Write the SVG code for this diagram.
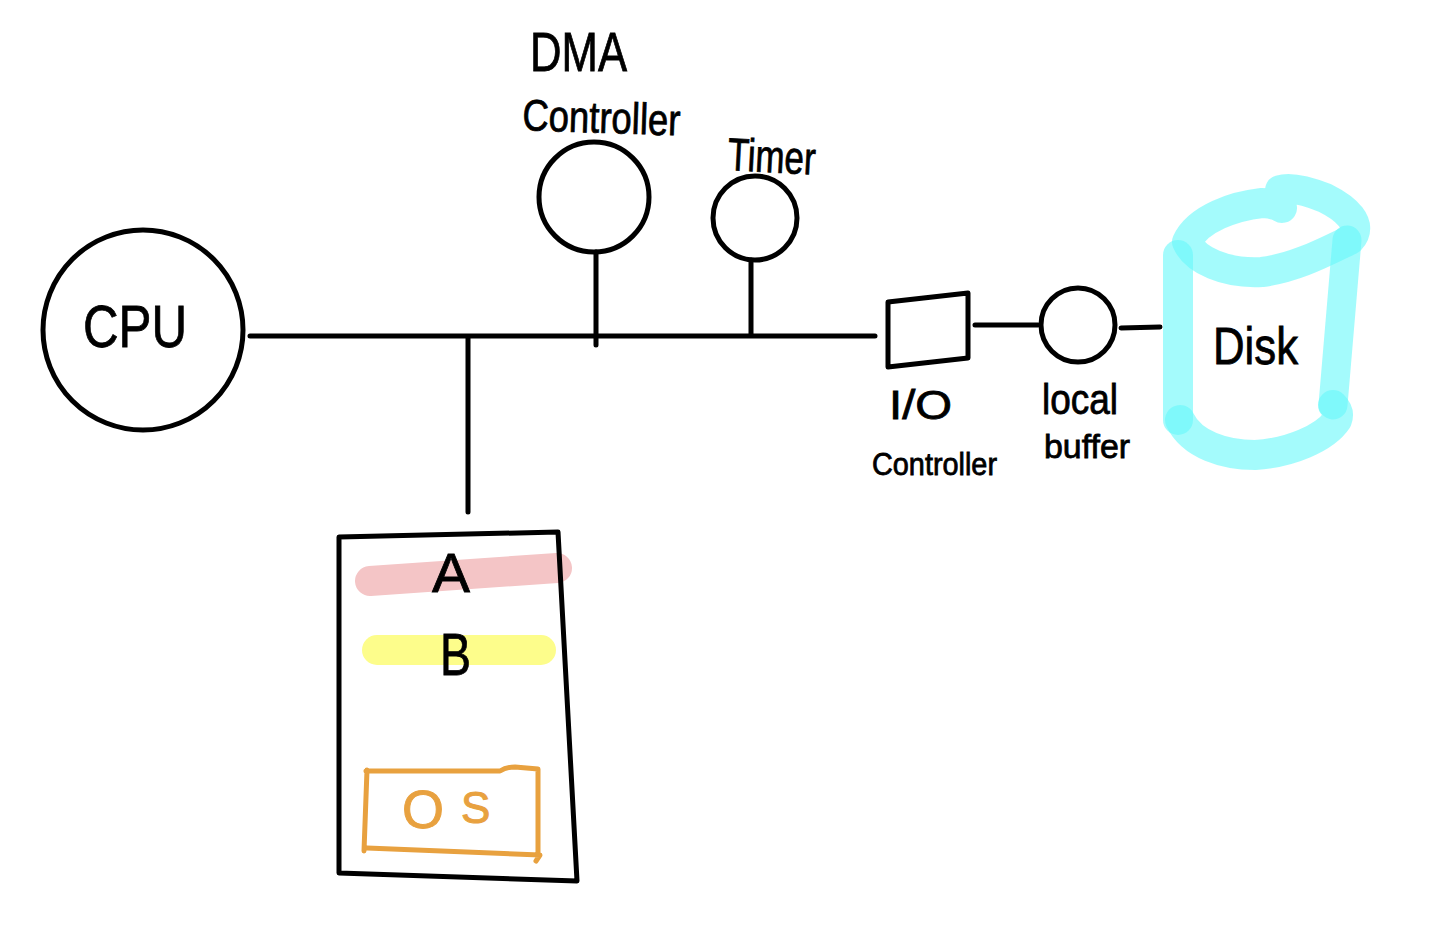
<svg xmlns="http://www.w3.org/2000/svg" width="1440" height="925" viewBox="0 0 1440 925">
<style>
.s{fill:none;stroke:#000;stroke-width:5;stroke-linecap:round;stroke-linejoin:round}
.t{font-family:"Liberation Sans",Arial,sans-serif;fill:#000;stroke:#000;stroke-width:.8}
.d{fill:none;stroke:rgb(103,248,250);stroke-opacity:.6;stroke-linecap:round;stroke-linejoin:round}
</style>
<rect width="1440" height="925" fill="#fff"/>
<g id="connectors">
<path class="s" d="M250 336H875M468 336V512M596 252V345M751 260V336M975 325H1038M1121 328L1160 327"/>
</g>
<g id="cpu">
<circle class="s" cx="143" cy="330" r="100"/>
<text class="t" x="83" y="347" font-size="60" textLength="104" lengthAdjust="spacingAndGlyphs">CPU</text>
</g>
<g id="dma-controller">
<circle class="s" cx="594" cy="197" r="55"/>
<text class="t" x="530" y="71" font-size="56" textLength="97" lengthAdjust="spacingAndGlyphs">DMA</text>
<text class="t" x="522" y="130" font-size="44" textLength="158" lengthAdjust="spacingAndGlyphs" transform="rotate(2 522 130)">Controller</text>
</g>
<g id="timer">
<circle class="s" cx="755" cy="218" r="42"/>
<text class="t" x="727" y="170" font-size="46" textLength="88" lengthAdjust="spacingAndGlyphs" transform="rotate(3 727 170)">Timer</text>
</g>
<g id="io-controller">
<polygon class="s" points="888,302 968,293 968,358 888,367"/>
<text class="t" x="889" y="419" font-size="40" textLength="63" lengthAdjust="spacingAndGlyphs">I/O</text>
<text class="t" x="872" y="475" font-size="32" textLength="125" lengthAdjust="spacingAndGlyphs">Controller</text>
</g>
<g id="local-buffer">
<circle class="s" cx="1078" cy="325" r="37"/>
<text class="t" x="1042" y="414" font-size="42" textLength="76" lengthAdjust="spacingAndGlyphs">local</text>
<text class="t" x="1044" y="458" font-size="34" textLength="86" lengthAdjust="spacingAndGlyphs">buffer</text>
</g>
<g id="disk">
<path class="d" stroke-width="30" d="M1282 208Q1274 203 1262 203C1235 206 1198 218 1187 242C1195 260 1225 274 1262 272C1295 268 1325 252 1350 240C1365 224 1345 208 1325 198C1305 190 1290 187 1280 190"/>
<path class="d" stroke-width="30" d="M1178 255V420"/>
<path class="d" stroke-width="29" d="M1347 240L1333 405"/>
<path class="d" stroke-width="30" d="M1180 420C1192 445 1225 455 1255 455C1290 453 1325 438 1337 420Q1340 412 1333 405"/>
<text class="t" x="1213" y="364" font-size="52" textLength="85" lengthAdjust="spacingAndGlyphs">Disk</text>
</g>
<g id="memory">
<line x1="370" y1="581" x2="557" y2="568" stroke="#f4c5c6" stroke-width="30" stroke-linecap="round"/>
<line x1="377" y1="650" x2="541" y2="650" stroke="#fdfd8b" stroke-width="30" stroke-linecap="round"/>
<polygon class="s" points="339,537 558,532 577,881 339,873"/>
<text class="t" x="432" y="592" font-size="56" textLength="38" lengthAdjust="spacingAndGlyphs">A</text>
<text class="t" x="440" y="675" font-size="60" textLength="31" lengthAdjust="spacingAndGlyphs">B</text>
</g>
<g id="os">
<path fill="none" stroke="#e8a13f" stroke-width="5" stroke-linecap="round" stroke-linejoin="round" d="M366 771L500 771Q506 767 515 767L538 769V855M367 848L540 855L536 861M367 770L364 851"/>
<text font-family="'Liberation Sans',Arial,sans-serif" fill="#e8a13f" stroke="#e8a13f" stroke-width="1" x="402" y="828" font-size="54">O<tspan font-size="44" dx="17" dy="-5">S</tspan></text>
</g>
</svg>
